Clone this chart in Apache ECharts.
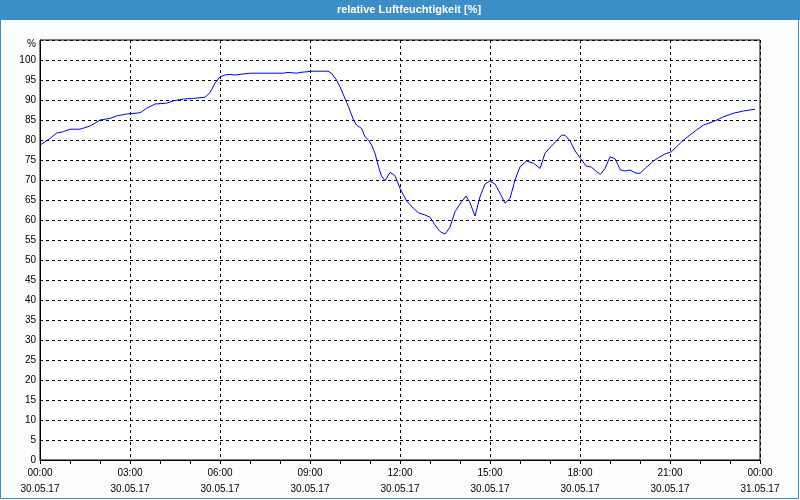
<!DOCTYPE html>
<html><head><meta charset="utf-8">
<script src="https://cdn.jsdelivr.net/npm/echarts@6/dist/echarts.min.js"></script>
<style>html,body{margin:0;padding:0;background:#fbfdfb;}#c{width:800px;height:500px;}</style>
</head><body><div id="c"></div>
<script>
// minutes since 00:00 on 30.05.17
var minutes = [2,20,33,47,60,80,100,110,120,140,153,173,200,213,230,253,267,287,307,330,340,350,360,370,380,390,400,420,486,496,514,520,546,576,583,593,600,607,617,627,633,643,650,657,663,670,677,683,690,700,710,720,733,747,757,770,780,790,800,810,820,830,840,852,860,870,880,890,900,910,920,930,940,950,960,973,987,1000,1010,1023,1033,1043,1050,1060,1070,1081,1092,1103,1113,1121,1130,1140,1150,1161,1170,1180,1192,1200,1213,1227,1240,1250,1263,1273,1287,1300,1313,1327,1347,1367,1387,1407,1430];
var humidity = [78.9,80.4,81.7,82.1,82.7,82.7,83.5,84.2,85,85.4,86,86.5,86.8,87.9,89,89.2,89.8,90.25,90.4,90.7,91.8,94.2,95.8,96.25,96.4,96.25,96.4,96.7,96.7,96.9,96.7,96.9,97.2,97.2,96.7,95,93.3,91.25,88.3,85,83.75,82.9,80.8,80,78.75,76.7,73.3,71,69.8,71.9,71.1,67.9,64.8,62.9,61.8,61.25,60.7,58.75,57.1,56.5,58.2,62.1,64,66,64.3,61,65.8,69,69.75,69,66.7,64.2,65.4,70,73.3,74.75,74.2,72.9,76.7,78.5,79.8,81.2,81.2,79.8,77.3,75.4,73.5,73.2,72.1,71.4,72.9,75.8,75.3,72.5,72.25,72.5,71.7,71.7,73.2,74.75,75.8,76.5,77.1,78.3,80,81.25,82.5,83.75,84.6,85.8,86.7,87.25,87.7];
var tickTimes = ['00:00','03:00','06:00','09:00','12:00','15:00','18:00','21:00','00:00'];
var tickDates = ['30.05.17','30.05.17','30.05.17','30.05.17','30.05.17','30.05.17','30.05.17','30.05.17','31.05.17'];
var titleText = 'relative Luftfeuchtigkeit [%]';
var unitText = '%';

var data = minutes.map(function(m,i){return [m, humidity[i]];});
var font = 'Liberation Sans';
var chart = echarts.init(document.getElementById('c'), null, {renderer:'canvas'});
chart.setOption({
  backgroundColor:'#fbfdfb',
  animation:false,
  graphic:[
    {type:'rect', shape:{x:0,y:0,width:800,height:20}, style:{fill:'#3c8fc6'}, z:0},
    {type:'rect', shape:{x:0.5,y:0.5,width:798,height:498}, style:{fill:'none',stroke:'#3c8fc6',lineWidth:1}, z:0},
    {type:'text', x:409, y:10, style:{text:titleText, fill:'#fff', font:'bold 11px "Liberation Sans"', textAlign:'center', textVerticalAlign:'middle'}, z:10}
  ],
  grid:{left:40,right:40,top:40,bottom:40,show:true,backgroundColor:'#ffffff',borderColor:'#000',borderWidth:1},
  xAxis:{
    type:'value', min:0, max:1440, interval:180,
    axisLine:{show:true,lineStyle:{color:'#000',width:1}},
    axisTick:{show:true,length:4,lineStyle:{color:'#000'}},
    minorTick:{show:true,splitNumber:3,length:4,lineStyle:{color:'#000'}},
    splitLine:{show:true,lineStyle:{color:'#000',type:[3,3],width:1}},
    axisLabel:{margin:5,color:'#000',fontFamily:font,fontSize:10,lineHeight:16,
      formatter:function(v){var i=Math.round(v/180);return tickTimes[i]+'\n'+tickDates[i];}}
  },
  yAxis:{
    type:'value', min:0, max:105, interval:5,
    name:unitText, nameLocation:'end', nameGap:-4,
    nameTextStyle:{color:'#000',fontFamily:font,fontSize:10,align:'right',verticalAlign:'middle',padding:[0,4,0,0]},
    axisLine:{show:true,lineStyle:{color:'#000'}},
    axisTick:{show:false},
    splitLine:{show:true,lineStyle:{color:'#000',type:[3,3],width:1}},
    axisLabel:{margin:4,color:'#000',fontFamily:font,fontSize:10,
      formatter:function(v){return v>=105?'':String(v);}}
  },
  series:[{type:'line',data:data,showSymbol:false,lineStyle:{color:'#0000ff',width:1},silent:true}]
});
</script></body></html>
